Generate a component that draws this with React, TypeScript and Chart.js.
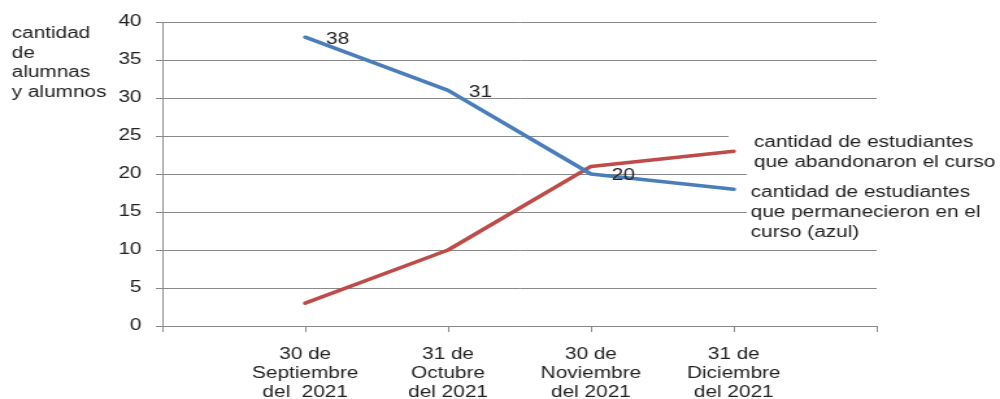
import React, { useEffect, useRef } from "react";
import { Chart, registerables } from "chart.js";

Chart.register(...registerables);

// ---- data ----
const categories: string[][] = [
  ["30 de", "Septiembre", "del  2021"],
  ["31 de", "Octubre", "del 2021"],
  ["30 de", "Noviembre", "del 2021"],
  ["31 de", "Diciembre", "del 2021"],
];
const remained = [38, 31, 20, 18];
const abandoned = [3, 10, 21, 23];
const remainedLabelShown = [true, true, true, false];
const yMin = 0;
const yMax = 40;
const yStep = 5;
const yTitleLines = ["cantidad", "de", "alumnas", "y alumnos"];
const abandonedNote = ["cantidad de estudiantes", "que abandonaron el curso"];
const remainedNote = ["cantidad de estudiantes", "que permanecieron en el", "curso (azul)"];

// ---- style ----
const FONT = "'Liberation Sans', Arial, Helvetica, sans-serif";
const TEXT = "#222222";
const GRID = "#8a8a8a";
const BLUE = "#4A7EBB";
const RED = "#BE4B48";
const INNER_W = 770;
const H = 399;

const labels: (string | string[])[] = ["", ...categories, ""];
const pad = (arr: number[]) => [null, ...arr, null];

const overlayPlugin = {
  id: "overlay",
  beforeDatasetsDraw(chart: any) {
    const ctx = chart.ctx;
    ctx.save();
    ctx.fillStyle = "#ffffff";
    ctx.fillRect(561, 124, 215, 47);
    ctx.fillRect(575, 171, 200, 75);
    ctx.restore();
  },
  afterDatasetsDraw(chart: any) {
    const ctx = chart.ctx;
    const meta = chart.getDatasetMeta(0);
    ctx.save();
    ctx.font = `16px ${FONT}`;
    ctx.fillStyle = TEXT;
    ctx.textAlign = "left";
    ctx.textBaseline = "middle";
    remained.forEach((v, i) => {
      if (!remainedLabelShown[i]) return;
      const p = meta.data[i + 1];
      ctx.fillText(String(v), p.x + 16, p.y + 2);
    });
    ctx.restore();
  },
  afterDraw(chart: any) {
    const ctx = chart.ctx;
    ctx.save();
    ctx.font = `16px ${FONT}`;
    ctx.fillStyle = TEXT;
    ctx.textAlign = "left";
    ctx.textBaseline = "alphabetic";
    const titleBase = [38, 57.5, 77, 96.5];
    yTitleLines.forEach((t, i) => ctx.fillText(t, 9, titleBase[i]));
    abandonedNote.forEach((t, i) => ctx.fillText(t, 580.5, 146.5 + i * 20));
    remainedNote.forEach((t, i) => ctx.fillText(t, 578, 197 + i * 19.8));
    ctx.restore();
  },
};

export default function App() {
  const ref = useRef<HTMLCanvasElement | null>(null);
  useEffect(() => {
    if (!ref.current) return;
    const chart = new Chart(ref.current, {
      type: "line",
      data: {
        labels,
        datasets: [
          {
            label: "permanecieron",
            data: pad(remained),
            borderColor: BLUE,
            backgroundColor: BLUE,
            borderWidth: 3.5,
            pointRadius: 0,
            tension: 0,
            borderCapStyle: "round",
            borderJoinStyle: "round",
          },
          {
            label: "abandonaron",
            data: pad(abandoned),
            borderColor: RED,
            backgroundColor: RED,
            borderWidth: 3.5,
            pointRadius: 0,
            tension: 0,
            borderCapStyle: "round",
            borderJoinStyle: "round",
          },
        ],
      },
      options: {
        responsive: false,
        animation: false,
        devicePixelRatio: 1,
        layout: { padding: { left: 0, right: 95, top: 22, bottom: 0 } },
        plugins: {
          legend: { display: false },
          tooltip: { enabled: false },
          title: { display: false },
        },
        scales: {
          x: {
            type: "category",
            offset: false,
            grid: {
              drawOnChartArea: false,
              drawTicks: true,
              tickLength: 6,
              color: GRID,
            },
            border: { color: GRID, width: 1 },
            ticks: {
              autoSkip: false,
              maxRotation: 0,
              minRotation: 0,
              padding: 13,
              color: TEXT,
              font: { family: FONT, size: 16, lineHeight: 1.2 },
            },
            afterFit(scale: any) {
              scale.height = 73;
              scale.paddingLeft = 0;
              scale.paddingRight = 0;
            },
          },
          y: {
            min: yMin,
            max: yMax,
            grid: { color: GRID, tickLength: 5, lineWidth: 1 },
            border: { color: GRID, width: 1 },
            ticks: {
              stepSize: yStep,
              padding: 11,
              color: TEXT,
              font: { family: FONT, size: 16 },
            },
            afterFit(scale: any) {
              scale.width = 125;
              scale.paddingTop = 0;
              scale.paddingBottom = 0;
            },
          },
        },
      },
      plugins: [overlayPlugin],
    } as any);
    return () => chart.destroy();
  }, []);

  return (
    <div style={{ position: "fixed", left: 0, top: 0, width: 1000, height: H, background: "#fff" }}>
      <canvas
        ref={ref}
        width={INNER_W}
        height={H}
        style={{ display: "block", width: "1000px", height: `${H}px` }}
      />
    </div>
  );
}
